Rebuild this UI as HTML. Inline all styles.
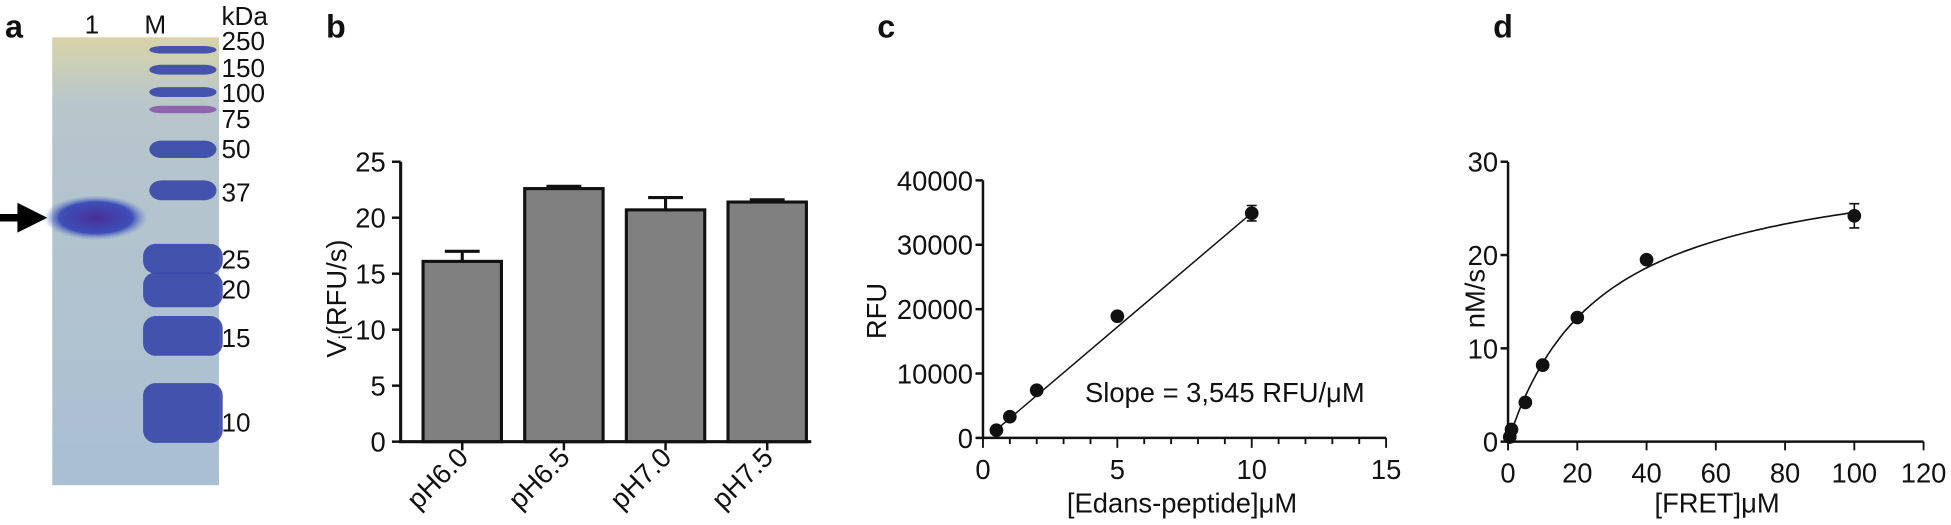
<!DOCTYPE html>
<html><head><meta charset="utf-8"><style>
body{margin:0;background:#fff;width:1951px;height:525px;overflow:hidden}
svg{display:block}
text{font-family:"Liberation Sans Narrow","Liberation Sans",sans-serif;fill:#111}
</style></head><body>
<svg id="s" width="1951" height="525" viewBox="0 0 1568 422" preserveAspectRatio="none">
<defs>
<linearGradient id="gelbg" x1="0" y1="0" x2="0" y2="1">
<stop offset="0" stop-color="#d8d3a8"/><stop offset="0.15" stop-color="#b8c6cc"/><stop offset="1" stop-color="#a9bfd3"/></linearGradient>
<radialGradient id="band" cx="0.5" cy="0.5" r="0.5"><stop offset="0" stop-color="#4a2f9a"/><stop offset="0.7" stop-color="#3d4fb8"/><stop offset="1" stop-color="#6f8fcc" stop-opacity="0"/></radialGradient>
</defs>
<g>
<text x="4" y="30" font-size="26" font-weight="bold" font-family="Liberation Sans">a</text>
<rect x="42" y="30" width="134" height="360" fill="url(#gelbg)"/>
<text x="68" y="27" font-size="21">1</text>
<text x="116" y="27" font-size="21">M</text>
<text x="178" y="20" font-size="21">kDa</text>
<ellipse cx="77" cy="175" rx="42" ry="18" fill="url(#band)"/>
<polygon points="0,172 14,172 14,163 38,175 14,187 14,178 0,178" fill="#000"/>
<g id="ladder"></g>
</g>
<g id="b"></g><g id="c"></g><g id="d"></g>
</svg>
<script>
const NS="http://www.w3.org/2000/svg";
function mk(p,t,a,txt){const e=document.createElementNS(NS,t);for(const k in a)e.setAttribute(k,a[k]);if(txt!==undefined)e.textContent=txt;p.appendChild(e);return e;}
const ladderKda=["250","150","100","75","50","37","25","20","15","10"];
const ladderY=[40,56,74,88,120,153,208,233,270,332];
const ladderLabelY=[33,55,75,96,120,155,209,233,272,340];
const ladderH=[3,4,4,3,7,8,12,14,16,24];
const lg=document.getElementById('ladder');
ladderKda.forEach((k,i)=>{
 const b=mk(lg,'rect',{x:120+(i>5?-5:0),y:ladderY[i]-ladderH[i],width:54+(i>5?10:0),height:ladderH[i]*2,rx:10,fill:i==3?'#8a5aa8':'#3646a8',opacity:0.9});
 
 
 const t=mk(lg,'text',{x:178,y:ladderLabelY[i]+7,'font-size':21},k);
 
 
});

const bCats=["pH6.0","pH6.5","pH7.0","pH7.5"];
const bVals=[16.1,22.6,20.7,21.4];
const bErr=[0.9,0.2,1.1,0.2];
const bTicks=[0,5,10,15,20,25];
(function(){
 const g=document.getElementById('b');
 
 
 const x0=322,y0=355,ppu=9;
 const Y=v=>y0-v*ppu;
 const lab=mk(g,'text',{x:262,y:30,'font-size':26,'font-weight':'bold','font-family':'Liberation Sans'},'b');
 
 
 const ax=mk(g,'path',{d:`M${x0} ${Y(25)}V${y0}H652`,stroke:'#111','stroke-width':2.5,fill:'none'});
 
 
 bTicks.forEach(t=>{
  mk(g,'line',{x1:x0-7,x2:x0,y1:Y(t),y2:Y(t),stroke:'#111','stroke-width':2});
  const tl=mk(g,'text',{x:x0-12,y:Y(t)+8,'font-size':22,'text-anchor':'end'},t);
  
  
 });
 const yt=mk(g,'text',{transform:'translate(278,240) rotate(-90)','font-size':22,'text-anchor':'middle'});
 yt.innerHTML='V<tspan font-size="15" dy="5">i</tspan><tspan dy="-5">(RFU/s)</tspan>';
 
 
 const step=81.7,bw=63;
 bCats.forEach((c,i)=>{
  const cx=371.5+i*step;
  const r=mk(g,'rect',{x:cx-bw/2,y:Y(bVals[i]),width:bw,height:y0-Y(bVals[i]),fill:'#808080',stroke:'#111','stroke-width':2.5});
  
  
  const e=mk(g,'path',{d:`M${cx} ${Y(bVals[i])}V${Y(bVals[i]+bErr[i])}M${cx-14} ${Y(bVals[i]+bErr[i])}H${cx+14}`,stroke:'#111','stroke-width':2.5,fill:'none'});
  
  
  mk(g,'line',{x1:cx,x2:cx,y1:y0,y2:y0+7,stroke:'#111','stroke-width':2});
  const t=mk(g,'text',{transform:`translate(${cx+6},${y0+14}) rotate(-45)`,'font-size':22,'text-anchor':'end'},c);
  
  
 });
})();

const cX=[0.5,1,2,5,10];
const cY=[1200,3300,7400,18900,34900];
const cErr=[0,0,0,0,1200];
const cXTicks=[0,5,10,15];
const cYTicks=[0,10000,20000,30000,40000];
const cSlope=3545, cIntercept=-500;
(function(){
 const g=document.getElementById('c');
 
 
 const x0=790,y0=352;
 const X=v=>x0+v*21.6, Y=v=>y0-v*0.005175;
 const lab=mk(g,'text',{x:705,y:30,'font-size':26,'font-weight':'bold','font-family':'Liberation Sans'},'c');
 
 
 const ax=mk(g,'path',{d:`M${x0} ${Y(40000)}V${y0}H${X(15)}`,stroke:'#111','stroke-width':2,fill:'none'});
 
 
 cYTicks.forEach(t=>{
  mk(g,'line',{x1:x0-6,x2:x0,y1:Y(t),y2:Y(t),stroke:'#111','stroke-width':2});
  const tl=mk(g,'text',{x:x0-8,y:Y(t)+8,'font-size':22,'text-anchor':'end'},t);
  
  
 });
 for(let v=0;v<=15;v++)mk(g,'line',{x1:X(v),x2:X(v),y1:y0,y2:y0+(v%5?5:8),stroke:'#111','stroke-width':1.5});
 cXTicks.forEach(t=>{
  const tl=mk(g,'text',{x:X(t),y:y0+33,'font-size':22,'text-anchor':'middle'},t);
  
  
 });
 const yt=mk(g,'text',{transform:'translate(712,250) rotate(-90)','font-size':22,'text-anchor':'middle'},'RFU');
 
 
 const xt=mk(g,'text',{x:950,y:412,'font-size':22,'text-anchor':'middle'},'[Edans-peptide]μM');
 
 
 const ln=mk(g,'line',{x1:X(cX[0]),y1:Y(cSlope*cX[0]+cIntercept),x2:X(cX[cX.length-1]),y2:Y(cSlope*cX[cX.length-1]+cIntercept),stroke:'#111','stroke-width':1.2});
 
 
 cX.forEach((x,i)=>{
  if(cErr[i]){const e=mk(g,'path',{d:`M${X(x)} ${Y(cY[i]-cErr[i])}V${Y(cY[i]+cErr[i])}M${X(x)-4} ${Y(cY[i]-cErr[i])}h8M${X(x)-4} ${Y(cY[i]+cErr[i])}h8`,stroke:'#111','stroke-width':1.3,fill:'none'});
   
   }
  const p=mk(g,'circle',{cx:X(x),cy:Y(cY[i]),r:5.5,fill:'#111'});
  
  
 });
 const st=mk(g,'text',{x:872,y:323,'font-size':22},'Slope = 3,545 RFU/μM');
 
 
})();

const dX=[0.5,1,5,10,20,40,100];
const dY=[0.5,1.3,4.2,8.2,13.3,19.5,24.2];
const dErr=[0,0,0,0,0,0,1.3];
const dXTicks=[0,20,40,60,80,100,120];
const dYTicks=[0,10,20,30];
const dVmax=31.2, dKm=27;
(function(){
 const g=document.getElementById('d');
 
 
 const x0=1212,y0=355;
 const X=v=>x0+v*2.783, Y=v=>y0-v*7.5;
 const lab=mk(g,'text',{x:1200,y:30,'font-size':26,'font-weight':'bold','font-family':'Liberation Sans'},'d');
 
 
 const ax=mk(g,'path',{d:`M${x0} ${Y(30)}V${y0}H${X(120)}`,stroke:'#111','stroke-width':2,fill:'none'});
 
 
 dYTicks.forEach(t=>{
  mk(g,'line',{x1:x0-6,x2:x0,y1:Y(t),y2:Y(t),stroke:'#111','stroke-width':2});
  const tl=mk(g,'text',{x:x0-8,y:Y(t)+8,'font-size':22,'text-anchor':'end'},t);
  
  
 });
 dXTicks.forEach(t=>{
  mk(g,'line',{x1:X(t),x2:X(t),y1:y0,y2:y0+7,stroke:'#111','stroke-width':1.5});
  const tl=mk(g,'text',{x:X(t),y:y0+33,'font-size':22,'text-anchor':'middle'},t);
  
  
 });
 const yt=mk(g,'text',{transform:'translate(1193,240) rotate(-90)','font-size':22,'text-anchor':'middle'},'nM/s');
 
 
 const xt=mk(g,'text',{x:1380,y:412,'font-size':22,'text-anchor':'middle'},'[FRET]μM');
 
 
 let d='';
 for(let i=0;i<=200;i++){const x=i*0.5;const v=dVmax*x/(dKm+x);d+=(i?'L':'M')+X(x).toFixed(1)+' '+Y(v).toFixed(1);}
 const c=mk(g,'path',{d:d,stroke:'#111','stroke-width':1.3,fill:'none'});
 
 
 dX.forEach((x,i)=>{
  if(dErr[i]){const e=mk(g,'path',{d:`M${X(x)} ${Y(dY[i]-dErr[i])}V${Y(dY[i]+dErr[i])}M${X(x)-4} ${Y(dY[i]-dErr[i])}h8M${X(x)-4} ${Y(dY[i]+dErr[i])}h8`,stroke:'#111','stroke-width':1.3,fill:'none'});
   
   }
  const p=mk(g,'circle',{cx:X(x),cy:Y(dY[i]),r:5.5,fill:'#111'});
  
  
 });
})();
</script>
</body></html>
